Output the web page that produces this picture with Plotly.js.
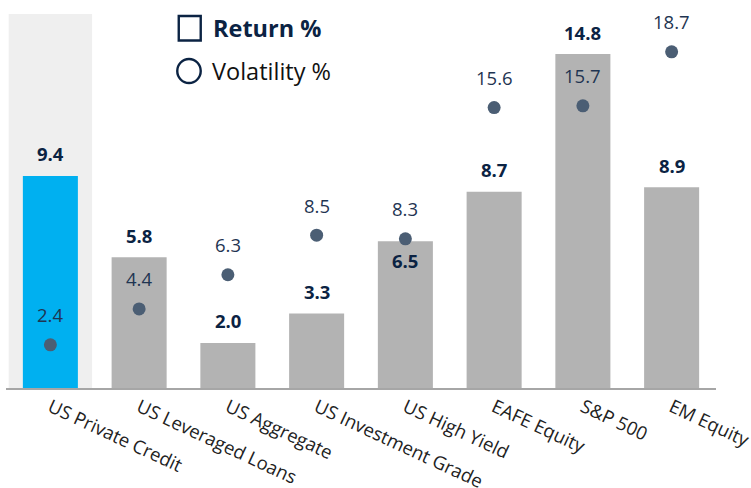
<!DOCTYPE html>
<html>
<head>
<meta charset="utf-8">
<script src="https://cdn.plot.ly/plotly-3.0.1.min.js"></script>
<style>html,body{margin:0;padding:0;background:#fff}#chart{width:751px;height:488px}</style>
</head>
<body>
<div id="chart"></div>
<script>
const categories = ["US Private Credit","US Leveraged Loans","US Aggregate","US Investment Grade","US High Yield","EAFE Equity","S&P 500","EM Equity"];
const returnPct = [9.4, 5.8, 2.0, 3.3, 6.5, 8.7, 14.8, 8.9];
const volatilityPct = [2.4, 4.4, 6.3, 8.5, 8.3, 15.6, 15.7, 18.7];
const highlightIndex = 0;

const navy = "#0b2343";
const barColors = categories.map((c, i) => i === highlightIndex ? "#00b0f0" : "#b3b3b3");

const plotH = 388;
const yMax1 = plotH / 22.56, yMax2 = plotH / 17.975;

const traces = [
  {
    type: "bar", x: categories, y: returnPct, width: 0.62,
    marker: {color: barColors}, hoverinfo: "skip", showlegend: false
  },
  {
    type: "scatter", mode: "markers", x: categories, y: volatilityPct, yaxis: "y2",
    marker: {color: "#4b5e74", size: 13}, hoverinfo: "skip", showlegend: false
  }
];

const annotations = [];
categories.forEach((c, i) => {
  // pixel heights above axis
  const barTop = returnPct[i] / yMax1 * plotH;
  const dotY = volatilityPct[i] / yMax2 * plotH;
  const labelAbove = barTop + 22;
  // if the return label would collide with the volatility dot/label, put it inside the bar
  const collides = labelAbove > dotY - 12 && labelAbove < dotY + 45;
  annotations.push({x: c, y: returnPct[i], xref: "x", yref: "y", text: "<b>" + returnPct[i].toFixed(1) + "</b>",
    showarrow: false, yanchor: "middle", yshift: collides ? -19 : 22, font: {family: "Open Sans", size: 18.5, color: navy}});
  annotations.push({x: c, y: volatilityPct[i], xref: "x", yref: "y2", text: volatilityPct[i].toFixed(1),
    showarrow: false, yanchor: "middle", yshift: 30, font: {family: "Open Sans", size: 18.5, color: "#1f3552"}});
});

const plotL = 5.5, plotW = 711;
const px = v => (v - plotL) / plotW;
const py = v => 1 - v / plotH;

// legend texts
annotations.push({xref: "paper", yref: "paper", x: px(211), y: py(28), xanchor: "left", yanchor: "middle",
  text: "<b>Return %</b>", showarrow: false, font: {family: "Open Sans", size: 23.5, color: navy}});
annotations.push({xref: "paper", yref: "paper", x: px(210), y: py(71), xanchor: "left", yanchor: "middle",
  text: "Volatility %", showarrow: false, font: {family: "Open Sans", size: 23.5, color: "#111"}});

const shapes = [
  {type: "rect", xref: "x", yref: "paper", x0: highlightIndex - 0.47, x1: highlightIndex + 0.47, y0: 0, y1: py(14),
    fillcolor: "#efefef", line: {width: 0}, layer: "below"},
  {type: "rect", xref: "paper", yref: "paper", x0: px(178.5), x1: px(200.5), y0: py(40.5), y1: py(16),
    fillcolor: "rgba(0,0,0,0)", line: {color: navy, width: 2.4}},
  {type: "circle", xref: "paper", yref: "paper", x0: px(177), x1: px(200.5), y0: py(83), y1: py(59),
    fillcolor: "rgba(0,0,0,0)", line: {color: navy, width: 2.4}}
];

const layout = {
  width: 751, height: 488,
  margin: {l: 5.5, r: 34.5, t: 0, b: 100},
  paper_bgcolor: "#fff", plot_bgcolor: "rgba(0,0,0,0)",
  showlegend: false,
  xaxis: {
    type: "category", range: [-0.5, 7.5], tickangle: 25,
    tickfont: {family: "Open Sans", size: 18.5, color: "#222"},
    showline: true, linecolor: "#a6a6a6", linewidth: 1.5, ticks: "", showgrid: false, zeroline: false,
    fixedrange: true
  },
  yaxis: {range: [0, yMax1], visible: false, showgrid: false, zeroline: false, fixedrange: true},
  yaxis2: {range: [0, yMax2], overlaying: "y", visible: false, showgrid: false, zeroline: false, fixedrange: true},
  annotations: annotations,
  shapes: shapes
};

Plotly.newPlot("chart", traces, layout, {displayModeBar: false, staticPlot: true});
</script>
</body>
</html>
